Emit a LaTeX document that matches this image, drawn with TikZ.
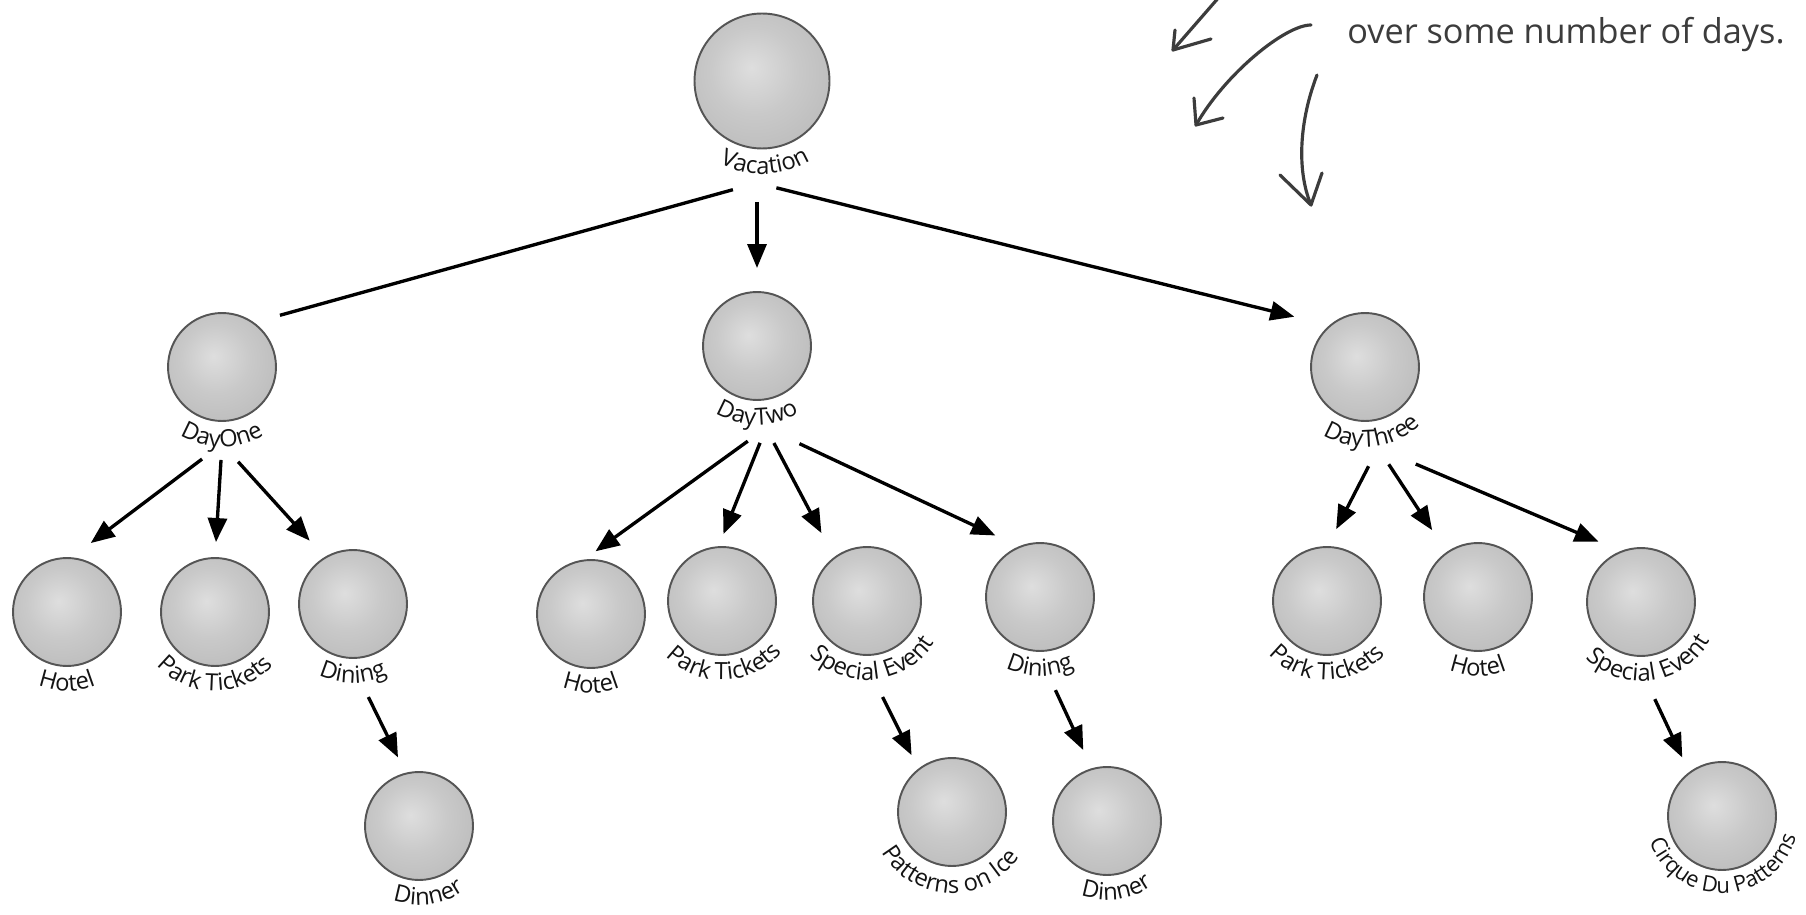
\documentclass[tikz,border=0pt]{standalone}
\usepackage{fontspec}
\setmainfont{Open Sans}
\usepackage{tikz}
\usetikzlibrary{arrows.meta,decorations.text}

\definecolor{ballhi}{HTML}{DEDEDE}
\definecolor{ballmid}{HTML}{C9C9C9}
\definecolor{ballring}{HTML}{B6B6B6}
\definecolor{ballrim}{HTML}{9A9A9A}
\definecolor{balledge}{HTML}{555555}
\definecolor{ink}{HTML}{3C3C3C}
\definecolor{lbl}{HTML}{141414}

\pgfdeclareradialshading{ball}{\pgfpoint{-4bp}{5bp}}{%
	color(0bp)=(ballhi); color(16bp)=(ballmid); color(38bp)=(ballring);
	color(50bp)=(ballrim); color(60bp)=(ballrim)}

% #1 font size, #2 node, #3 radius, #4 angle of the label's middle, #5 text
\newcommand{\arclabel}[5][13.5]{%
	\path[decorate, decoration={text along path, text align=center, text color=lbl,
		text={|\fontsize{#1}{15}\selectfont|#5}}]
		([shift={(#4-120:#3)}]#2.center) arc[start angle=#4-120, end angle=#4+120, radius=#3];}

\tikzset{
	ball/.style={circle, draw=balledge, line width=1.1pt, shading=ball, minimum size=2.16cm, inner sep=0pt, outer sep=0pt},
	bigball/.style={ball, minimum size=2.7cm},
	link/.style={line width=1.9pt, -{Triangle[length=4.8mm, width=3.8mm]}},
	bare/.style={line width=1.9pt},
	scrawl/.style={draw=ink, line width=1.8pt, line cap=round, line join=round},
	note/.style={font=\fontsize{19.5}{22}\selectfont, text=ink, inner sep=0pt}
}

\begin{document}
\begin{tikzpicture}[x=0.02cm, y=0.02cm]
	\fill[white] (0,0) rectangle (1806,914);
	\useasboundingbox (0,0) rectangle (1806,914);

	\node[bigball] (vac) at (762,833) {};
	\node[ball] (d1) at (222,547) {};
	\node[ball] (d2) at (757,568) {};
	\node[ball] (d3) at (1365,547) {};

	\node[ball] (h1) at (67,302) {};
	\node[ball] (p1) at (215,302) {};
	\node[ball] (g1) at (353,310) {};
	\node[ball] (n1) at (419,88) {};

	\node[ball] (h2) at (591,300) {};
	\node[ball] (p2) at (722,313) {};
	\node[ball] (s2) at (867,313) {};
	\node[ball] (g2) at (1040,317) {};
	\node[ball] (e2) at (952,102) {};
	\node[ball] (n2) at (1107,93) {};

	\node[ball] (p3) at (1327,313) {};
	\node[ball] (h3) at (1478,317) {};
	\node[ball] (s3) at (1641,312) {};
	\node[ball] (c3) at (1722,98) {};

	\arclabel{vac}{1.86cm}{272}{Vacation}
	\arclabel{d1}{1.6cm}{270}{DayOne}
	\arclabel{d2}{1.58cm}{270}{DayTwo}
	\arclabel{d3}{1.6cm}{276}{DayThree}
	\arclabel{h1}{1.58cm}{270}{Hotel}
	\arclabel{p1}{1.58cm}{270}{Park Tickets}
	\arclabel{g1}{1.58cm}{270}{Dining}
	\arclabel{n1}{1.58cm}{278}{Dinner}
	\arclabel{h2}{1.58cm}{270}{Hotel}
	\arclabel{p2}{1.58cm}{272}{Park Tickets}
	\arclabel{s2}{1.58cm}{276}{Special Event}
	\arclabel{g2}{1.58cm}{270}{Dining}
	\arclabel{e2}{1.62cm}{268}{Patterns on Ice}
	\arclabel{n2}{1.58cm}{278}{Dinner}
	\arclabel{p3}{1.58cm}{270}{Park Tickets}
	\arclabel{h3}{1.58cm}{270}{Hotel}
	\arclabel{s3}{1.58cm}{278}{Special Event}
	\arclabel[12.5]{c3}{1.54cm}{272}{Cirque Du Patterns}

	\coordinate (vac-out) at (757,731);
	\coordinate (d1-out) at (222,470);
	\coordinate (d2-out) at (766,486);
	\coordinate (d3-out) at (1378,466);
	\coordinate (g1-out) at (360,234);
	\coordinate (s2-out) at (870,242);
	\coordinate (g2-out) at (1047,242);
	\coordinate (s3-out) at (1642,242);

	\draw[bare, shorten <=5mm, shorten >=5.6mm] (vac-out) -- (d1.55);
	\foreach \a/\b/\s/\g in {vac-out/d2.90/3.8mm/4.8mm, vac-out/d3.130/4mm/7.4mm,
		d1-out/h1.86/5mm/5mm, d1-out/p1.90/3.2mm/3.2mm, d1-out/g1.121/4.8mm/4.6mm,
		d2-out/h2.99/4.5mm/3.2mm, d2-out/p2.94/3.2mm/2.8mm, d2-out/s2.127/3.4mm/5.6mm, d2-out/g2.112/7.4mm/5.4mm,
		d3-out/p3.90/4.1mm/4mm, d3-out/h3.125/3.9mm/5.4mm, d3-out/s3.111/8.2mm/5mm,
		g1-out/n1.104/3.8mm/3.6mm, s2-out/e2.128/5.6mm/3.2mm, g2-out/n2.106/4mm/4.2mm, s3-out/c3.127/6mm/3.4mm}
		\draw[link, shorten <=\s, shorten >=\g] (\a) -- (\b);

	\node[note, anchor=base west] (days) at (1347,870) {over some number of days.};
	\draw[scrawl] (1220,918) -- (1173,864);
	\draw[scrawl] (1211,875) -- (1173,864) -- (1175,884);
	\draw[scrawl] (1311,889) .. controls (1285,889) and (1225,840) .. (1196,789);
	\draw[scrawl] (1194,816) -- (1196,789) -- (1223,796);
	\draw[scrawl] (1317,839) .. controls (1300,795) and (1296,745) .. (1311,709);
	\draw[scrawl] (1280,739) -- (1311,709) -- (1322,741);
\end{tikzpicture}
\end{document}
